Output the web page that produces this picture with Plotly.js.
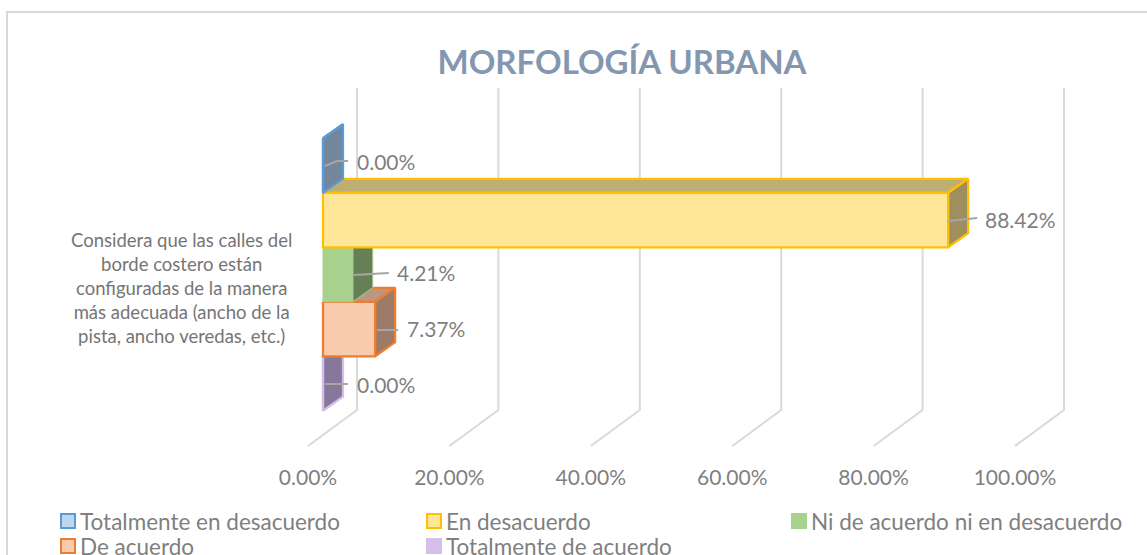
<!DOCTYPE html>
<html>
<head>
<meta charset="utf-8">
<script src="https://cdn.plot.ly/plotly-3.0.1.min.js"></script>
<style>
  html, body { margin: 0; padding: 0; background: #fff; overflow: hidden; }
  #chart { width: 1147px; height: 555px; }
</style>
</head>
<body>
<div id="chart"></div>
<script>
// Data
const chartTitle = 'MORFOLOGÍA URBANA';
const categoryLabel = 'Considera que las calles del<br>borde costero están<br>configuradas de la manera<br>más adecuada (ancho de la<br>pista, ancho veredas, etc.)';
const seriesNames = ['Totalmente en desacuerdo', 'En desacuerdo', 'Ni de acuerdo ni en desacuerdo', 'De acuerdo', 'Totalmente de acuerdo'];
const seriesValues = [0, 88.42, 4.21, 7.37, 0];
const tickValues = [0, 20, 40, 60, 80, 100];
const tickLabels = ['0.00%', '20.00%', '40.00%', '60.00%', '80.00%', '100.00%'];

// Colours per series
const frontFill = ['#BDD7EE', '#FFE699', '#A9D18E', '#F8CBAD', '#D5BFE9'];
const sideFill = ['#74869b', '#9f8f5f', '#667f55', '#9c7b68', '#87779a'];
const topFill = ['#8a9db0', '#bfae72', '#7f9a6a', '#bb9681', '#a08fb5'];
const edgeColor = ['#5B9BD5', '#FFC000', '#A9D18E', '#ED7D31', '#D5BFE9'];

// Fake-3D geometry, everything in pixels of the 1147x555 page
const W = 1147, H = 555;
const pxPerPct = 7.07;
const floorFrontPx = 308;      // where 0% sits on the floor's front edge
const barInset = 15 / pxPerPct;
const wallDx = 49 / pxPerPct;
const barDx = 20 / pxPerPct;
const plotBottom = 463;
const barHeight = 54.5;
const groupCentre = 274.5;
const pxPerUnit = barHeight;   // one y unit = one bar
const pyToY = p => (p - groupCentre) / pxPerUnit;
const barDy = -14 / pxPerUnit;
const labelOffsets = [32, 35, 42, 30, 32];
const labelPy = [161, 219, 272, 328, 384];

const traces = [];

// walls and floor
const gridX = [], gridY = [];
tickValues.forEach(t => {
  gridX.push(t + wallDx, t + wallDx, t, null);
  gridY.push(pyToY(88), pyToY(410), pyToY(446), null);
});
traces.push({
  x: gridX, y: gridY, type: 'scatter', mode: 'lines',
  line: { color: '#d9d9d9', width: 2 }, hoverinfo: 'skip', showlegend: false
});

function poly(xs, ys, fill, edge, width) {
  traces.push({
    x: xs.concat(xs[0]), y: ys.concat(ys[0]), type: 'scatter', mode: 'lines',
    fill: 'toself', fillcolor: fill,
    line: { color: edge, width: width }, hoverinfo: 'skip', showlegend: false
  });
}

// lower series first, each bar sits on top of the one below it
[4, 3, 2, 1, 0].forEach(i => {
  const x0 = barInset, x1 = seriesValues[i] + barInset;
  const y0 = (i - 2) - 0.5, y1 = (i - 2) + 0.5;
  const w = i === 2 ? 1 : 2.25;
  poly([x0, x0 + barDx, x1 + barDx, x1], [y0, y0 + barDy, y0 + barDy, y0], topFill[i], edgeColor[i], w);
  poly([x1, x1 + barDx, x1 + barDx, x1], [y0, y0 + barDy, y1 + barDy, y1], sideFill[i], edgeColor[i], w);
  poly([x0, x1, x1, x0], [y0, y0, y1, y1], frontFill[i], edgeColor[i], w);
});

// leader lines from bars to their labels: [px from bar end, page y] for each bend
const leaderBends = [
  [[2, 166], [14, 161], [25, 161]],
  [[0, 221], [20, 219], [29, 218]],
  [[1, 275], [20, 274], [36, 273]],
  [[2, 330], [23, 330]],
  [[2, 384], [25, 384]]
];
seriesValues.forEach((v, i) => {
  const xv = v + barInset;
  traces.push({
    x: leaderBends[i].map(b => xv + b[0] / pxPerPct),
    y: leaderBends[i].map(b => pyToY(b[1])),
    type: 'scatter', mode: 'lines',
    line: { color: '#a6a6a6', width: 2 }, hoverinfo: 'skip', showlegend: false
  });
});

const annotations = [];
seriesValues.forEach((v, i) => {
  annotations.push({
    x: v + barInset + labelOffsets[i] / pxPerPct,
    y: pyToY(labelPy[i]),
    xref: 'x', yref: 'y', xanchor: 'left', yanchor: 'middle', showarrow: false,
    text: v.toFixed(2) + '%',
    font: { family: 'Lato, sans-serif', size: 21, color: '#7f7f7f' }
  });
});

annotations.push({
  x: 181 / W, y: 1 - 288 / H, xref: 'paper', yref: 'paper',
  xanchor: 'center', yanchor: 'middle', showarrow: false,
  text: categoryLabel, align: 'center',
  font: { family: 'Lato, sans-serif', size: 18.5, color: '#757575' }
});

// legend, drawn by hand so the swatches sit tight against the text
const legendX = [61, 427, 792, 61, 427];
const legendY = [521, 521, 521, 546, 546];
const shapes = [{
  type: 'rect', xref: 'paper', yref: 'paper',
  x0: 7 / W, x1: 1.1, y0: 1 - 12 / H, y1: -0.1,
  line: { color: '#d9d9d9', width: 2 }, fillcolor: 'rgba(0,0,0,0)', layer: 'below'
}];
seriesNames.forEach((name, i) => {
  shapes.push({
    type: 'rect', xref: 'paper', yref: 'paper',
    x0: legendX[i] / W, x1: (legendX[i] + 14) / W,
    y0: 1 - (legendY[i] - 7) / H, y1: 1 - (legendY[i] + 7) / H,
    fillcolor: frontFill[i], line: { color: edgeColor[i], width: 2 }
  });
  annotations.push({
    x: (legendX[i] + 17) / W, y: 1 - legendY[i] / H,
    xref: 'paper', yref: 'paper', xanchor: 'left', yanchor: 'middle', showarrow: false,
    text: name, font: { family: 'Lato, sans-serif', size: 22.5, color: '#7f7f7f' }
  });
});

const layout = {
  width: W, height: H,
  margin: { l: 0, r: 0, t: 0, b: 0 },
  paper_bgcolor: '#fff', plot_bgcolor: 'rgba(0,0,0,0)',
  showlegend: false,
  title: {
    text: '<b>' + chartTitle + '</b>', x: 622 / W, xanchor: 'center', y: 1 - 62 / H, yanchor: 'middle',
    font: { family: 'Lato, sans-serif', size: 33, color: '#8497B0' }
  },
  xaxis: {
    range: [-floorFrontPx / pxPerPct, (W - floorFrontPx) / pxPerPct],
    tickmode: 'array', tickvals: tickValues, ticktext: tickLabels,
    showgrid: false, zeroline: false, showline: false, ticks: '',
    tickfont: { family: 'Lato, sans-serif', size: 21, color: '#7f7f7f' },
    fixedrange: true
  },
  yaxis: {
    domain: [1 - plotBottom / H, 1],
    range: [pyToY(plotBottom), pyToY(0)],
    visible: false, fixedrange: true
  },
  shapes: shapes,
  annotations: annotations
};

Plotly.newPlot('chart', traces, layout, { displayModeBar: false, staticPlot: true });
</script>
</body>
</html>
